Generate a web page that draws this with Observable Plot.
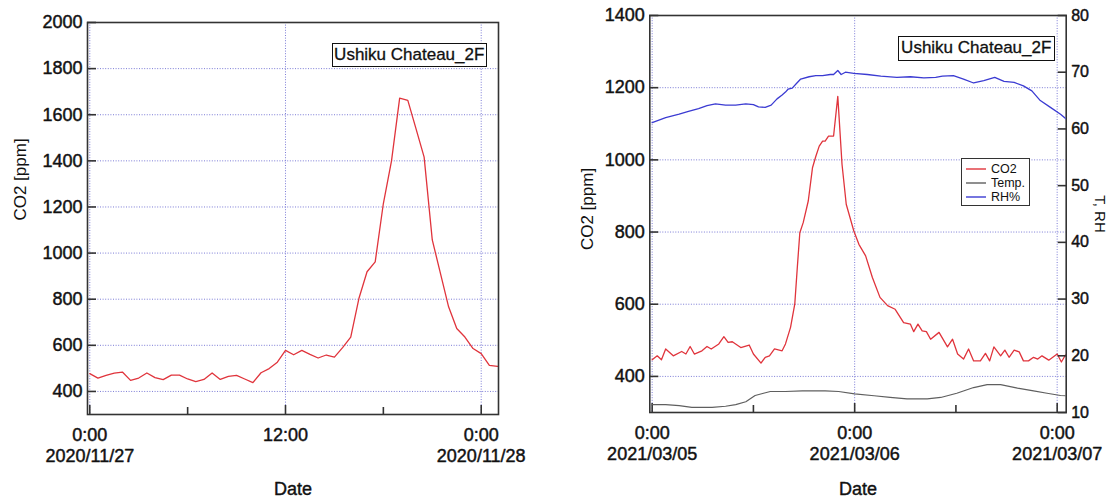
<!DOCTYPE html>
<html>
<head>
<meta charset="utf-8">
<script src="https://cdn.jsdelivr.net/npm/d3@7"></script>
<script src="https://cdn.jsdelivr.net/npm/@observablehq/plot@0.6"></script>
<style>
  html, body { margin: 0; padding: 0; background: #fff; }
  #wrap { position: relative; width: 1112px; height: 498px; overflow: hidden;
          font-family: "Liberation Sans", Arial, Helvetica, sans-serif; color: #111; }
  #wrap > svg { position: absolute; top: 0; }
  .tag { position: absolute; box-sizing: border-box; border: 1.5px solid #111; background: #fff;
         font-size: 17px; line-height: 21px; text-align: center; color: #111; white-space: nowrap;
         -webkit-text-stroke: 0.3px #111; }
  .legend { position: absolute; box-sizing: border-box; border: 1.3px solid #333; background: #fff;
            font-size: 12.5px; color: #111; padding: 3px 0 0 4px; }
  .legend .row { height: 14.2px; line-height: 14.2px; white-space: nowrap; display: flex; align-items: center; }
  .legend .row svg { margin-right: 5px; flex: none; }
</style>
</head>
<body>
<div id="wrap"></div>
<script>
// ---- Ushiku Chateau_2F, 2020/11/27 (30-minute CO2 readings, hours from 0:00) ----
const dayA = "2020-11-27";
const co2AHours = [0, 0.5, 1, 1.5, 2, 2.5, 3, 3.5, 4, 4.5, 5, 5.5, 6, 6.5, 7, 7.5, 8, 8.5, 9, 9.5,
  10, 10.5, 11, 11.5, 12, 12.5, 13, 13.5, 14, 14.5, 15, 15.5, 16, 16.5, 17, 17.5, 18, 18.5, 19, 19.5,
  20, 20.5, 21, 21.5, 22, 22.5, 23, 23.5, 24, 24.5, 25];
const co2A = [477, 458, 470, 479, 484, 448, 458, 480, 460, 451, 471, 471, 454, 443, 452, 480, 452, 465, 470, 454,
  438, 481, 499, 527, 578, 559, 578, 561, 545, 558, 549, 590, 636, 803, 919, 962, 1215, 1400, 1672, 1662,
  1540, 1416, 1057, 912, 767, 673, 636, 586, 564, 513, 509];
const yTicksA = [400, 600, 800, 1000, 1200, 1400, 1600, 1800, 2000];
const majorHoursA = [0, 12, 24];
const majorLabelsA = ["0:00\n2020/11/27", "12:00", "0:00\n2020/11/28"];
const minorHoursA = [6, 18];

// ---- Ushiku Chateau_2F, 2021/03/05 - 03/07 (hours from 0:00 on 03/05) ----
const dayB = "2021-03-05";
const co2BHours = [0, 0.6, 1.1, 1.6, 2.5, 3.5, 4, 4.5, 5, 5.9, 6.5, 7, 7.9, 8.5, 9, 9.5, 10.5, 11.5, 12, 12.9,
  13.4, 13.9, 14.5, 15.4, 15.8, 16.4, 16.9, 17.2, 17.5, 17.9, 18.5, 19, 19.4, 19.8, 20.2, 20.5, 20.9, 21.5, 22, 22.5,
  23, 23.9, 24.5, 25.3, 26.1, 27, 27.9, 28.8, 29.8, 30.6, 31, 31.5, 32, 32.5, 33, 34, 35, 35.6, 36.2, 36.9,
  37.5, 38.1, 38.9, 39.5, 40, 40.5, 41.3, 41.8, 42.3, 42.9, 43.5, 44, 44.6, 45.2, 45.7, 46.2, 47, 48, 48.5, 49];
const co2B = [446, 457, 446, 476, 457, 469, 462, 483, 462, 471, 483, 476, 490, 510, 494, 496, 480, 487, 462, 437,
  453, 457, 476, 471, 490, 536, 600, 701, 798, 826, 886, 978, 1010, 1038, 1052, 1052, 1066, 1066, 1176, 988,
  877, 803, 766, 734, 674, 619, 596, 586, 549, 545, 524, 545, 526, 524, 503, 522, 482, 503, 462, 448,
  476, 443, 443, 464, 443, 482, 457, 473, 453, 473, 468, 443, 443, 453, 448, 457, 445, 462, 440, 460];
const rhHours = [0, 1.6, 3.2, 4.3, 5.5, 6.5, 7.5, 8.7, 9.9, 11.1, 12, 12.6, 13.4, 14.1, 14.8, 15.4, 15.8, 16.1, 16.6, 17.1,
  17.6, 18.6, 19.4, 20.2, 21.1, 21.5, 22, 22.4, 22.9, 23.9, 25.5, 27.1, 29, 30.6, 32.2, 33.6, 34.4, 35.7, 36.9, 38.1,
  39.3, 40.6, 41.7, 42.9, 44, 45, 46, 47.2, 48.4, 49.1];
const rh = [61.1, 62.0, 62.6, 63.1, 63.6, 64.1, 64.4, 64.2, 64.2, 64.4, 64.3, 63.9, 63.8, 64.2, 65.3, 66.0, 66.5, 67.0, 67.2, 68.0,
  68.8, 69.2, 69.4, 69.4, 69.6, 69.6, 70.3, 69.6, 70.0, 69.8, 69.6, 69.3, 69.1, 69.2, 69.0, 69.1, 69.3, 69.4, 68.8, 68.1,
  68.5, 69.1, 68.4, 68.2, 67.6, 66.7, 65.0, 63.8, 62.6, 61.7];
const tempHours = [0, 1.6, 3.2, 4.7, 7.1, 8.7, 9.9, 11.1, 12.2, 13.2, 14, 15.8, 17.8, 20.5, 22.1, 24, 26.3, 28.2, 30.2, 32.6,
  34.2, 36.1, 38.1, 39.7, 41.3, 43.3, 45.2, 46.8, 48.4, 49.1];
const temp = [11.4, 11.4, 11.2, 10.9, 10.9, 11.1, 11.4, 11.9, 13.0, 13.4, 13.7, 13.7, 13.8, 13.8, 13.7, 13.3, 12.95, 12.65, 12.4, 12.4,
  12.65, 13.4, 14.4, 14.9, 14.9, 14.3, 13.8, 13.4, 13.0, 12.95];
const yTicksB = [400, 600, 800, 1000, 1200, 1400];
const yTicksRight = [10, 20, 30, 40, 50, 60, 70, 80];
const majorHoursB = [0, 24, 48];
const majorLabelsB = ["0:00\n2021/03/05", "0:00\n2021/03/06", "0:00\n2021/03/07"];
const minorHoursB = [12, 36];

const stationName = "Ushiku Chateau_2F";
const seriesNames = ["CO2", "Temp.", "RH%"];

// ---- styling ----
const FONT = '"Liberation Sans", Arial, Helvetica, sans-serif';
const INK = "#111";
const RED = "#e0343c", BLUE = "#3b3bd2", GRAY = "#5f5f5f", GRID = "#6e6ed2";
const gridStyle = {stroke: GRID, strokeOpacity: 0.9, strokeWidth: 1, strokeDasharray: "1,1.6"};
// slightly heavier tick labels
const heavy = {fill: INK, textStroke: INK, textStrokeWidth: 0.45};
const heavyText = {fill: INK, stroke: INK, strokeWidth: 0.4};

const at = (day, h) => new Date(Date.parse(day + "T00:00:00Z") + h * 3600e3);
const series = (day, hours, values) => hours.map((h, i) => ({t: at(day, h), v: values[i]}));

const wrap = document.getElementById("wrap");

function axesX(day, majorHours, majorLabels, minorHours) {
  const major = majorHours.map(h => at(day, h));
  const labels = new Map(major.map((d, i) => [+d, majorLabels[i]]));
  return [
    Plot.axisX(major, {anchor: "bottom", tickSize: -9, tickPadding: 20, strokeWidth: 1.6, stroke: "#333",
      fontSize: 18, lineHeight: 1.2, tickFormat: d => labels.get(+d), label: null, ...heavy}),
    Plot.axisX(minorHours.map(h => at(day, h)), {anchor: "bottom", tickSize: -7, strokeWidth: 1.6, stroke: "#333",
      tickFormat: () => "", label: null})
  ];
}

// ---- left panel: CO2 on 2020/11/27 ----
const left = Plot.plot({
  width: 560, height: 498,
  marginLeft: 87, marginRight: 62, marginTop: 22, marginBottom: 84,
  style: {fontFamily: FONT, fontSize: "18px", color: INK, background: "transparent", overflow: "visible"},
  x: {type: "utc", domain: [at(dayA, -0.14), at(dayA, 25.06)], axis: null},
  y: {domain: [300, 2000], axis: null},
  marks: [
    Plot.gridY(yTicksA.slice(0, -1), gridStyle),
    Plot.gridX(majorHoursA.map(h => at(dayA, h)), gridStyle),
    Plot.line(series(dayA, co2AHours, co2A), {x: "t", y: "v", stroke: RED, strokeWidth: 1.3, clip: true}),
    Plot.frame({stroke: "#333", strokeWidth: 1.6}),
    Plot.axisY(yTicksA, {anchor: "left", tickSize: -9, tickPadding: 14, strokeWidth: 1.6, stroke: "#333",
      fontSize: 18, tickFormat: d => String(d), label: null, ...heavy}),
    ...axesX(dayA, majorHoursA, majorLabelsA, minorHoursA),
    Plot.text(["CO2 [ppm]"], {frameAnchor: "left", textAnchor: "middle", dx: -67, dy: -39, rotate: -90,
      fontSize: 17, fill: INK}),
    Plot.text(["Date"], {frameAnchor: "bottom", textAnchor: "middle", lineAnchor: "top", dy: 68, fontSize: 18, ...heavyText})
  ]
});
left.style.left = "0px";
wrap.appendChild(left);

// ---- right panel: CO2 (left axis) with temperature and RH (right axis) ----
const frameB = {width: 552, height: 498, marginLeft: 89.3, marginRight: 46.3, marginTop: 15, marginBottom: 86};
const xB = {type: "utc", domain: [at(dayB, -0.28), at(dayB, 49.07)], axis: null};

const rightMain = Plot.plot({
  ...frameB,
  style: {fontFamily: FONT, fontSize: "18px", color: INK, background: "transparent", overflow: "visible"},
  x: xB,
  y: {domain: [300, 1400], axis: null},
  marks: [
    Plot.gridY(yTicksB.slice(0, -1), gridStyle),
    Plot.gridX(majorHoursB.map(h => at(dayB, h)), gridStyle),
    Plot.line(series(dayB, co2BHours, co2B), {x: "t", y: "v", stroke: RED, strokeWidth: 1.3, clip: true}),
    Plot.frame({stroke: "#333", strokeWidth: 1.6}),
    Plot.axisY(yTicksB, {anchor: "left", tickSize: -9, tickPadding: 14, strokeWidth: 1.6, stroke: "#333",
      fontSize: 18, tickFormat: d => String(d), label: null, ...heavy}),
    ...axesX(dayB, majorHoursB, majorLabelsB, minorHoursB),
    Plot.text(["CO2 [ppm]"], {frameAnchor: "left", textAnchor: "middle", dx: -62, dy: -5, rotate: -90,
      fontSize: 17, fill: INK}),
    Plot.text(["Date"], {frameAnchor: "bottom", textAnchor: "middle", lineAnchor: "top", dy: 70, fontSize: 18, ...heavyText})
  ]
});
rightMain.style.left = "560px";
wrap.appendChild(rightMain);

const rightAux = Plot.plot({
  ...frameB,
  style: {fontFamily: FONT, fontSize: "16px", color: INK, background: "transparent", overflow: "visible"},
  x: xB,
  y: {domain: [10, 80], axis: null},
  marks: [
    Plot.line(series(dayB, tempHours, temp), {x: "t", y: "v", stroke: GRAY, strokeWidth: 1.2, clip: true}),
    Plot.line(series(dayB, rhHours, rh), {x: "t", y: "v", stroke: BLUE, strokeWidth: 1.3, clip: true}),
    Plot.axisY(yTicksRight, {anchor: "right", tickSize: -9, tickPadding: 14, strokeWidth: 1.6, stroke: "#333",
      fontSize: 16, label: null, ...heavy}),
    Plot.text(["T, RH"], {frameAnchor: "right", textAnchor: "middle", dx: 34, dy: 0, rotate: 90, fontSize: 15, fill: INK})
  ]
});
rightAux.style.left = "560px";
wrap.appendChild(rightAux);

// ---- station tags and series legend ----
function tag(x, y, w, h) {
  const d = document.createElement("div");
  d.className = "tag";
  Object.assign(d.style, {left: x + "px", top: y + "px", width: w + "px", height: h + "px"});
  d.textContent = stationName;
  wrap.appendChild(d);
}
tag(331.5, 42.5, 155.5, 24.5);
tag(897.5, 36, 157.5, 24.5);

const legend = document.createElement("div");
legend.className = "legend";
Object.assign(legend.style, {left: "961px", top: "158px", width: "68.5px", height: "48px"});
[RED, GRAY, BLUE].forEach((c, i) => {
  const row = document.createElement("div");
  row.className = "row";
  const sw = d3.create("svg").attr("width", 20).attr("height", 4);
  sw.append("line").attr("x1", 0).attr("x2", 20).attr("y1", 2).attr("y2", 2)
    .attr("stroke", c).attr("stroke-width", 1.4);
  row.appendChild(sw.node());
  row.appendChild(document.createTextNode(seriesNames[i]));
  legend.appendChild(row);
});
wrap.appendChild(legend);
</script>
</body>
</html>
